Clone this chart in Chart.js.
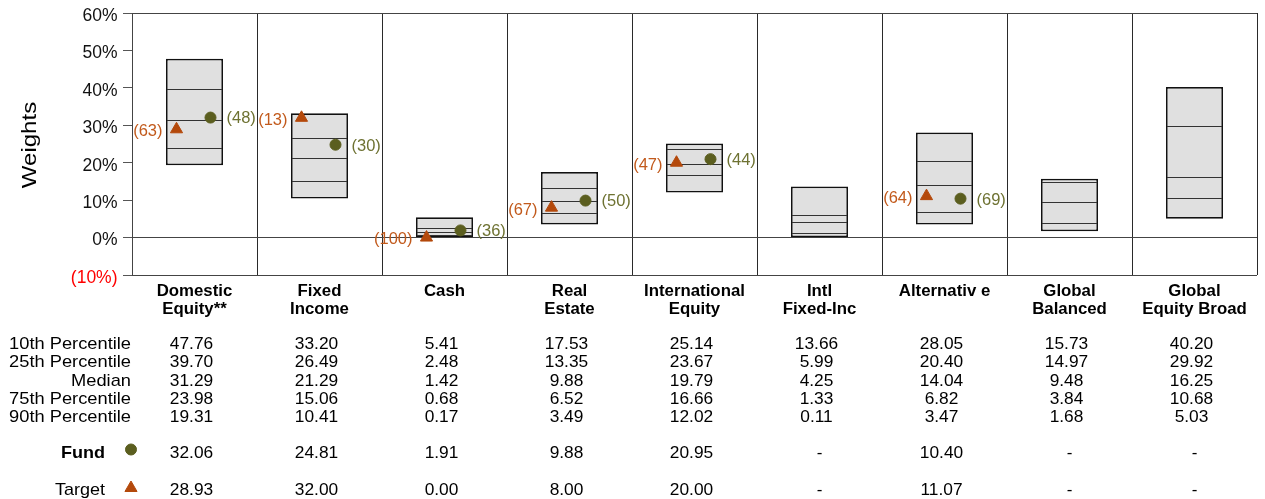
<!DOCTYPE html>
<html>
<head>
<meta charset="utf-8">
<script src="https://cdn.jsdelivr.net/npm/chart.js@4.4.1/dist/chart.umd.min.js"></script>
<style>
  html, body { margin: 0; padding: 0; background: #fff; }
  #wrap { width: 1265px; height: 499px; }
</style>
</head>
<body>
<div id="wrap"><canvas id="c" width="1265" height="499"></canvas></div>
<script>
// Asset class categories (each entry is the list of label lines)
const categories = [
  ["Domestic", "Equity**"],
  ["Fixed", "Income"],
  ["Cash"],
  ["Real", "Estate"],
  ["International", "Equity"],
  ["Intl", "Fixed-Inc"],
  ["Alternativ e"],
  ["Global", "Balanced"],
  ["Global", "Equity Broad"]
];

// Peer-group percentile weights (%)
const p10 = [47.76, 33.20, 5.41, 17.53, 25.14, 13.66, 28.05, 15.73, 40.20];
const p25 = [39.70, 26.49, 2.48, 13.35, 23.67, 5.99, 20.40, 14.97, 29.92];
const median = [31.29, 21.29, 1.42, 9.88, 19.79, 4.25, 14.04, 9.48, 16.25];
const p75 = [23.98, 15.06, 0.68, 6.52, 16.66, 1.33, 6.82, 3.84, 10.68];
const p90 = [19.31, 10.41, 0.17, 3.49, 12.02, 0.11, 3.47, 1.68, 5.03];

// Fund and target weights (%) and their percentile ranks
const fund = [32.06, 24.81, 1.91, 9.88, 20.95, null, 10.40, null, null];
const target = [28.93, 32.00, 0.00, 8.00, 20.00, null, 11.07, null, null];
const fundRank = [48, 30, 36, 50, 44, null, 69, null, null];
const targetRank = [63, 13, 100, 67, 47, null, 64, null, null];

// Y axis ticks (%)
const yTicks = [-10, 0, 10, 20, 30, 40, 50, 60];

// Summary table rows
const tableRows = [
  { label: "10th Percentile", values: p10 },
  { label: "25th Percentile", values: p25 },
  { label: "Median", values: median },
  { label: "75th Percentile", values: p75 },
  { label: "90th Percentile", values: p90 }
];

const FONT = "'Liberation Sans', Arial, sans-serif";
const FUND_COLOR = "#5b5e1f";
const TARGET_COLOR = "#b4490b";
const FUND_TEXT = "#6e7232";
const TARGET_TEXT = "#c25a1c";
const FUND_SHIFT = 16;
const TARGET_SHIFT = -18;

// Draw text with a slight horizontal stretch (alignment respected)
function wideText(ctx, text, x, y, sx) {
  ctx.save();
  ctx.translate(x, y);
  ctx.scale(sx, 1);
  ctx.fillText(text, 0, 0);
  ctx.restore();
}

// Shift the marker elements sideways inside each category column
const markerShift = {
  id: "markerShift",
  afterDatasetsUpdate(chart) {
    chart.data.datasets.forEach((ds, di) => {
      if (ds.shift === undefined) return;
      const meta = chart.getDatasetMeta(di);
      meta.data.forEach(el => { el.x += ds.shift; });
    });
  }
};

// Quartile / median lines inside each percentile box
const boxLines = {
  id: "boxLines",
  afterDatasetDraw(chart, args) {
    if (args.meta.type !== "bar") return;
    const ctx = chart.ctx;
    const y = chart.scales.y;
    ctx.save();
    ctx.strokeStyle = "#333";
    ctx.lineWidth = 1.2;
    args.meta.data.forEach((bar, i) => {
      const half = bar.width / 2;
      [p25[i], median[i], p75[i]].forEach(v => {
        const py = Math.round(y.getPixelForValue(v)) + 0.5;
        ctx.beginPath();
        ctx.moveTo(bar.x - half + 1, py);
        ctx.lineTo(bar.x + half - 1, py);
        ctx.stroke();
      });
    });
    ctx.restore();
  }
};

// Rank labels beside markers, axis title, category labels and the summary table
const annotations = {
  id: "annotations",
  afterDatasetsDraw(chart) {
    const ctx = chart.ctx;
    ctx.save();
    ctx.font = "16px " + FONT;
    ctx.textBaseline = "middle";
    const fMeta = chart.getDatasetMeta(0);
    const tMeta = chart.getDatasetMeta(1);
    fundRank.forEach((r, i) => {
      if (r === null) return;
      const el = fMeta.data[i];
      ctx.fillStyle = FUND_TEXT;
      ctx.textAlign = "left";
      wideText(ctx, "(" + r + ")", el.x + 16, el.y + 1.5, 1.03);
    });
    targetRank.forEach((r, i) => {
      if (r === null) return;
      const el = tMeta.data[i];
      ctx.fillStyle = TARGET_TEXT;
      ctx.textAlign = "right";
      wideText(ctx, "(" + r + ")", el.x - 14, el.y + 2.5, 1.03);
    });
    ctx.restore();
  },
  afterDraw(chart) {
    const ctx = chart.ctx;
    const x = chart.scales.x;
    const area = chart.chartArea;
    ctx.save();
    ctx.fillStyle = "#000";

    // y axis title
    ctx.save();
    ctx.translate(30, (area.top + area.bottom) / 2 + 1);
    ctx.rotate(-Math.PI / 2);
    ctx.scale(1.2, 1);
    ctx.font = "20px " + FONT;
    ctx.textAlign = "center";
    ctx.textBaseline = "middle";
    ctx.fillText("Weights", 0, 0);
    ctx.restore();

    ctx.textBaseline = "alphabetic";

    // category labels
    ctx.font = "bold 16px " + FONT;
    ctx.textAlign = "center";
    categories.forEach((lines, i) => {
      const cx = x.getPixelForValue(i);
      lines.forEach((t, k) => wideText(ctx, t, cx, 296 + k * 17.5, 1.05));
    });

    // percentile rows
    const rowBase = [349, 367, 385.5, 404, 422];
    ctx.font = "17px " + FONT;
    tableRows.forEach((row, r) => {
      ctx.textAlign = "right";
      wideText(ctx, row.label, 131, rowBase[r], 1.075);
      ctx.textAlign = "center";
      row.values.forEach((v, i) => {
        wideText(ctx, v.toFixed(2), x.getPixelForValue(i) - 3, rowBase[r], 1.02);
      });
    });

    // fund / target rows
    const extra = [
      { label: "Fund", bold: true, values: fund, base: 458, style: "circle", color: FUND_COLOR, my: 449.5 },
      { label: "Target", bold: false, values: target, base: 495, style: "triangle", color: TARGET_COLOR, my: 488 }
    ];
    extra.forEach(row => {
      ctx.font = (row.bold ? "bold " : "") + "17px " + FONT;
      ctx.textAlign = "right";
      ctx.fillStyle = "#000";
      wideText(ctx, row.label, 105, row.base, 1.06);
      ctx.font = "17px " + FONT;
      ctx.textAlign = "center";
      row.values.forEach((v, i) => {
        const cx = x.getPixelForValue(i);
        if (v === null) ctx.fillText("-", cx, row.base);
        else wideText(ctx, v.toFixed(2), cx - 3, row.base, 1.02);
      });
      const opts = {
        pointStyle: row.style,
        radius: row.style === "circle" ? 5.5 : 7,
        rotation: 0,
        borderWidth: 1
      };
      ctx.fillStyle = row.color;
      ctx.strokeStyle = row.color;
      ctx.lineWidth = 1;
      Chart.helpers.drawPoint(ctx, opts, 131, row.my);
    });
    ctx.restore();
  }
};

const frameColor = "#444";

new Chart(document.getElementById("c"), {
  data: {
    labels: categories.map(c => c.join(" ")),
    datasets: [
      {
        type: "line",
        label: "Fund",
        data: fund,
        shift: FUND_SHIFT,
        showLine: false,
        pointStyle: "circle",
        pointRadius: 5.5,
        pointBackgroundColor: FUND_COLOR,
        pointBorderColor: FUND_COLOR,
        pointBorderWidth: 1
      },
      {
        type: "line",
        label: "Target",
        data: target,
        shift: TARGET_SHIFT,
        showLine: false,
        pointStyle: "triangle",
        pointRadius: 7,
        pointBackgroundColor: TARGET_COLOR,
        pointBorderColor: TARGET_COLOR,
        pointBorderWidth: 1
      },
      {
        type: "bar",
        label: "Range",
        data: p10.map((v, i) => [p90[i], v]),
        backgroundColor: "#e0e0e0",
        borderColor: "#111",
        borderWidth: 1.7,
        borderSkipped: false,
        categoryPercentage: 1,
        barPercentage: 0.456
      }
    ]
  },
  options: {
    responsive: false,
    animation: false,
    events: [],
    layout: { padding: { top: 13, right: 8, bottom: 224, left: 0 } },
    plugins: {
      legend: { display: false },
      tooltip: { enabled: false }
    },
    scales: {
      x: {
        type: "category",
        offset: true,
        ticks: { display: false },
        grid: {
          offset: true,
          color: "#2a2a2a",
          lineWidth: 1,
          drawTicks: false
        },
        border: { display: false },
        afterFit(scale) { scale.height = 0; scale.paddingLeft = 0; scale.paddingRight = 0; }
      },
      y: {
        min: -10,
        max: 60,
        afterBuildTicks(scale) { scale.ticks = yTicks.map(v => ({ value: v })); },
        ticks: {
          font: { family: FONT, size: 17.5 },
          padding: 5.5,
          labelOffset: 3,
          color: ctx => (ctx.tick && ctx.tick.value < 0 ? "#ff0000" : "#111"),
          callback: v => (v < 0 ? "(" + Math.abs(v) + "%)" : v + "%")
        },
        grid: {
          color: ctx => (ctx.tick && (ctx.tick.value === 0 || ctx.tick.value === 60 || ctx.tick.value === -10) ? frameColor : "rgba(0,0,0,0)"),
          tickColor: "#555",
          tickLength: 9,
          lineWidth: 1
        },
        border: { display: true, color: frameColor, width: 1 },
        afterFit(scale) {
          scale.width = 132;
          scale.paddingTop = 0;
          scale.paddingBottom = 0;
        }
      }
    }
  },
  plugins: [markerShift, boxLines, annotations]
});
</script>
</body>
</html>
